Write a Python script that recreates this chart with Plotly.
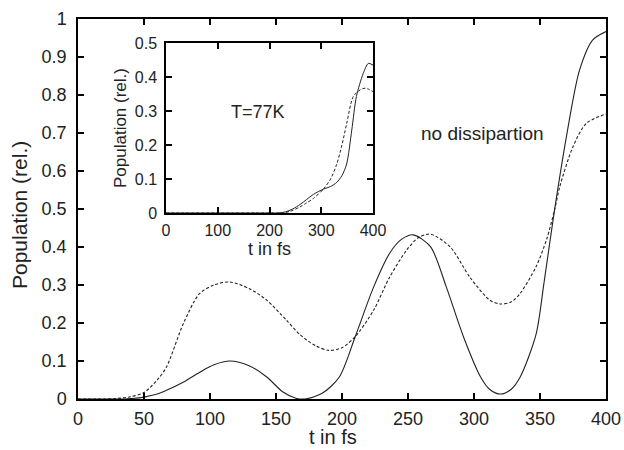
import plotly.graph_objects as go

# ---- main panel data (no dissipation) ----
t_main_solid = [0, 20, 35, 40, 50, 60, 67, 80, 92, 103, 115, 130, 143, 155, 165, 172,
                185, 198, 210, 224, 236, 245, 254, 267, 279, 292, 305, 312, 320, 328,
                335, 347, 353, 361, 370, 380, 390, 400]
p_main_solid = [0, 0, 0, 0.001, 0.005, 0.013, 0.023, 0.045, 0.07, 0.09, 0.1, 0.087, 0.058,
                0.019, 0.002, 0, 0.015, 0.058, 0.164, 0.295, 0.383, 0.42, 0.432, 0.401,
                0.295, 0.164, 0.058, 0.025, 0.013, 0.025, 0.058, 0.17, 0.305, 0.497,
                0.69, 0.866, 0.945, 0.967]

t_main_dash = [0, 20, 28, 40, 50, 60, 67, 80, 92, 103, 115, 130, 143, 158, 168, 180, 190,
               200, 210, 224, 236, 249, 258, 267, 282, 297, 312, 320, 328, 335, 347, 355,
               361, 365, 375, 385, 400]
p_main_dash = [0, 0, 0.001, 0.006, 0.017, 0.05, 0.084, 0.2, 0.277, 0.30, 0.308, 0.29, 0.26,
               0.207, 0.17, 0.14, 0.128, 0.135, 0.164, 0.234, 0.32, 0.392, 0.425, 0.434,
               0.40, 0.32, 0.26, 0.25, 0.255, 0.278, 0.348, 0.42, 0.497, 0.559, 0.664,
               0.725, 0.75]

# ---- inset data (T=77K) ----
t_in_solid = [0, 200, 215, 230, 245, 259, 272, 285, 304, 318, 330, 340, 349, 359, 368,
              381, 391, 400]
p_in_solid = [0, 0, 0, 0.003, 0.012, 0.025, 0.04, 0.055, 0.07, 0.078, 0.09, 0.11, 0.144,
              0.244, 0.343, 0.41, 0.44, 0.435]

t_in_dash = [0, 200, 225, 240, 259, 272, 285, 304, 318, 330, 340, 349, 362, 375, 385, 393, 400]
p_in_dash = [0, 0, 0, 0.005, 0.018, 0.03, 0.043, 0.07, 0.1, 0.144, 0.2, 0.262, 0.343,
             0.362, 0.367, 0.363, 0.357]

main_xticks = [0, 50, 100, 150, 200, 250, 300, 350, 400]
main_yticks = [0, 0.1, 0.2, 0.3, 0.4, 0.5, 0.6, 0.7, 0.8, 0.9, 1]
main_yticklabels = ["0", "0.1", "0.2", "0.3", "0.4", "0.5", "0.6", "0.7", "0.8", "0.9", "1"]
inset_xticks = [0, 100, 200, 300, 400]
inset_yticks = [0, 0.1, 0.2, 0.3, 0.4, 0.5]
inset_yticklabels = ["0", "0.1", "0.2", "0.3", "0.4", "0.5"]

LINE = "#222222"
TXT = "#222222"
FONT = "Liberation Sans, Arial, sans-serif"

fig = go.Figure()
fig.add_trace(go.Scatter(x=t_main_solid, y=p_main_solid, mode="lines",
                         line=dict(color=LINE, width=1.1, shape="spline", smoothing=0.8),
                         xaxis="x", yaxis="y", showlegend=False))
fig.add_trace(go.Scatter(x=t_main_dash, y=p_main_dash, mode="lines",
                         line=dict(color=LINE, width=1.1, dash="3px,2px", shape="spline", smoothing=0.8),
                         xaxis="x", yaxis="y", showlegend=False))
fig.add_trace(go.Scatter(x=t_in_solid, y=p_in_solid, mode="lines",
                         line=dict(color=LINE, width=1.0, shape="spline", smoothing=0.8),
                         xaxis="x2", yaxis="y2", showlegend=False))
fig.add_trace(go.Scatter(x=t_in_dash, y=p_in_dash, mode="lines",
                         line=dict(color=LINE, width=1.0, dash="3px,2px", shape="spline", smoothing=0.8),
                         xaxis="x2", yaxis="y2", showlegend=False))

axis_common = dict(showline=True, linecolor="black", linewidth=1.5, mirror="ticks",
                   ticks="inside", tickcolor="black", tickwidth=1.5, ticklen=6,
                   showgrid=False, zeroline=False, automargin=False)

W, H = 624, 450
ML, MT = 78, 19
MR = W - 606
MB = H - 399
plot_w = W - ML - MR
plot_h = H - MT - MB


def px_x(px):
    return (px - ML) / plot_w


def px_y(py):
    return (H - MB - py) / plot_h


def label(text, x, y, size, angle=0, yanchor="middle"):
    return dict(text=text, x=px_x(x), y=px_y(y), xref="paper", yref="paper",
                xanchor="center", yanchor=yanchor, showarrow=False, textangle=angle,
                font=dict(size=size, color=TXT, family=FONT))


fig.update_layout(
    width=W, height=H,
    margin=dict(l=ML, r=MR, t=MT, b=MB),
    paper_bgcolor="white", plot_bgcolor="white",
    font=dict(family=FONT, color=TXT),
    xaxis=dict(domain=[0, 1], range=[0, 400], tickvals=main_xticks,
               tickfont=dict(size=18), ticklabelstandoff=3, **axis_common),
    yaxis=dict(domain=[0, 1], range=[0, 1], tickvals=main_yticks, ticktext=main_yticklabels,
               tickfont=dict(size=18), ticklabelstandoff=6, **axis_common),
    xaxis2=dict(domain=[px_x(166), px_x(373)], range=[0, 400], tickvals=inset_xticks,
                anchor="y2", tickfont=dict(size=16), ticklabelstandoff=2,
                title=dict(text="t in fs", font=dict(size=18), standoff=0),
                **axis_common),
    yaxis2=dict(domain=[px_y(213), px_y(43)], range=[0, 0.5], tickvals=inset_yticks,
                ticktext=inset_yticklabels, anchor="x2", tickfont=dict(size=16),
                ticklabelstandoff=4,
                title=dict(text="Population (rel.)", font=dict(size=17), standoff=4),
                **axis_common),
    annotations=[
        label("t in fs", 333, 450, 20, yanchor="bottom"),
        label("Population (rel.)", 19, 215, 21, angle=-90),
        label("T=77K", 258, 112, 18),
        label("no dissipartion", 482, 133, 19),
    ],
)

# remove the page's default body margin so the 624x450 figure fills the window
fig.write_html("out.html", config={"displayModeBar": False},
               post_script="document.body.style.margin='0';document.body.style.overflow='hidden';")
